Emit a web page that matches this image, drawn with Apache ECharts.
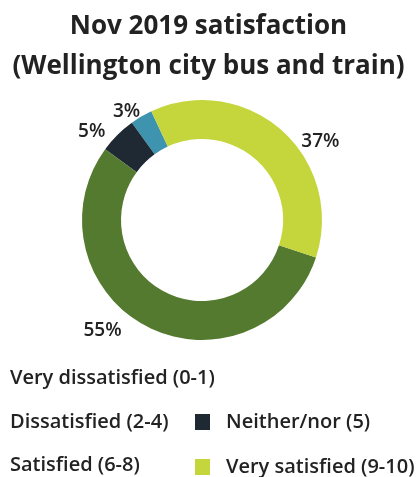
<!DOCTYPE html>
<html><head><meta charset="utf-8">
<script src="https://cdn.jsdelivr.net/npm/echarts@6/dist/echarts.min.js"></script>
<style>html,body{margin:0;padding:0;background:#fff}#c{width:417px;height:477px}</style>
</head><body><div id="c"></div>
<script>
const titleText = 'Nov 2019 satisfaction\n(Wellington city bus and train)';
const categories = ['Very dissatisfied (0-1)', 'Dissatisfied (2-4)', 'Neither/nor (5)', 'Satisfied (6-8)', 'Very satisfied (9-10)'];
const values = [0, 3, 5, 55, 37];
const colors = ['#d9534f', '#3e93ae', '#1e2933', '#547a30', '#c5d53c'];
const hiddenLegendIcons = ['Very dissatisfied (0-1)', 'Dissatisfied (2-4)', 'Satisfied (6-8)'];

const font = 'Open Sans';
const chart = echarts.init(document.getElementById('c'));
const legendText = { fontFamily: font, fontSize: 20, color: '#222', fontWeight: 600 };
// legend placement per category (left, top)
const legendPos = [[5, 368], [5, 412], [195, 412], [5, 455], [195, 457]];
const labelShift = [[0, 0], [15, 4], [6, 4], [-10, -5], [2, 19]];
const legends = categories.map((name, i) => {
  const hidden = hiddenLegendIcons.includes(name);
  return {
    data: [{ name, itemStyle: hidden ? { opacity: 0 } : undefined }],
    left: legendPos[i][0], top: legendPos[i][1], padding: 0,
    itemWidth: hidden ? 0 : 15, itemHeight: 16, icon: 'rect', selectedMode: false,
    textStyle: Object.assign({}, legendText, hidden ? {} : { padding: [0, 0, 0, 11] })
  };
});
chart.setOption({
  animation: false,
  color: colors,
  title: {
    text: titleText, left: 'center', top: 2,
    textStyle: { fontFamily: font, fontWeight: 'bold', fontSize: 26, lineHeight: 40, color: '#222' }
  },
  legend: legends,
  series: [{
    type: 'pie',
    center: [202, 220],
    radius: [81, 120],
    startAngle: 115,
    clockwise: false,
    avoidLabelOverlap: false,
    data: categories.map((c, i) => ({ name: c, value: values[i], label: { show: values[i] > 0 } })),
    label: {
      position: 'outside', formatter: '{c}%',
      fontFamily: font, fontSize: 19, color: '#222', fontWeight: 600
    },
    labelLine: { show: false, length: 10, length2: 6 },
    labelLayout: function (p) { const s = labelShift[p.dataIndex]; return { dx: s[0], dy: s[1] }; },
    itemStyle: { borderWidth: 0 }
  }]
});
</script></body></html>
